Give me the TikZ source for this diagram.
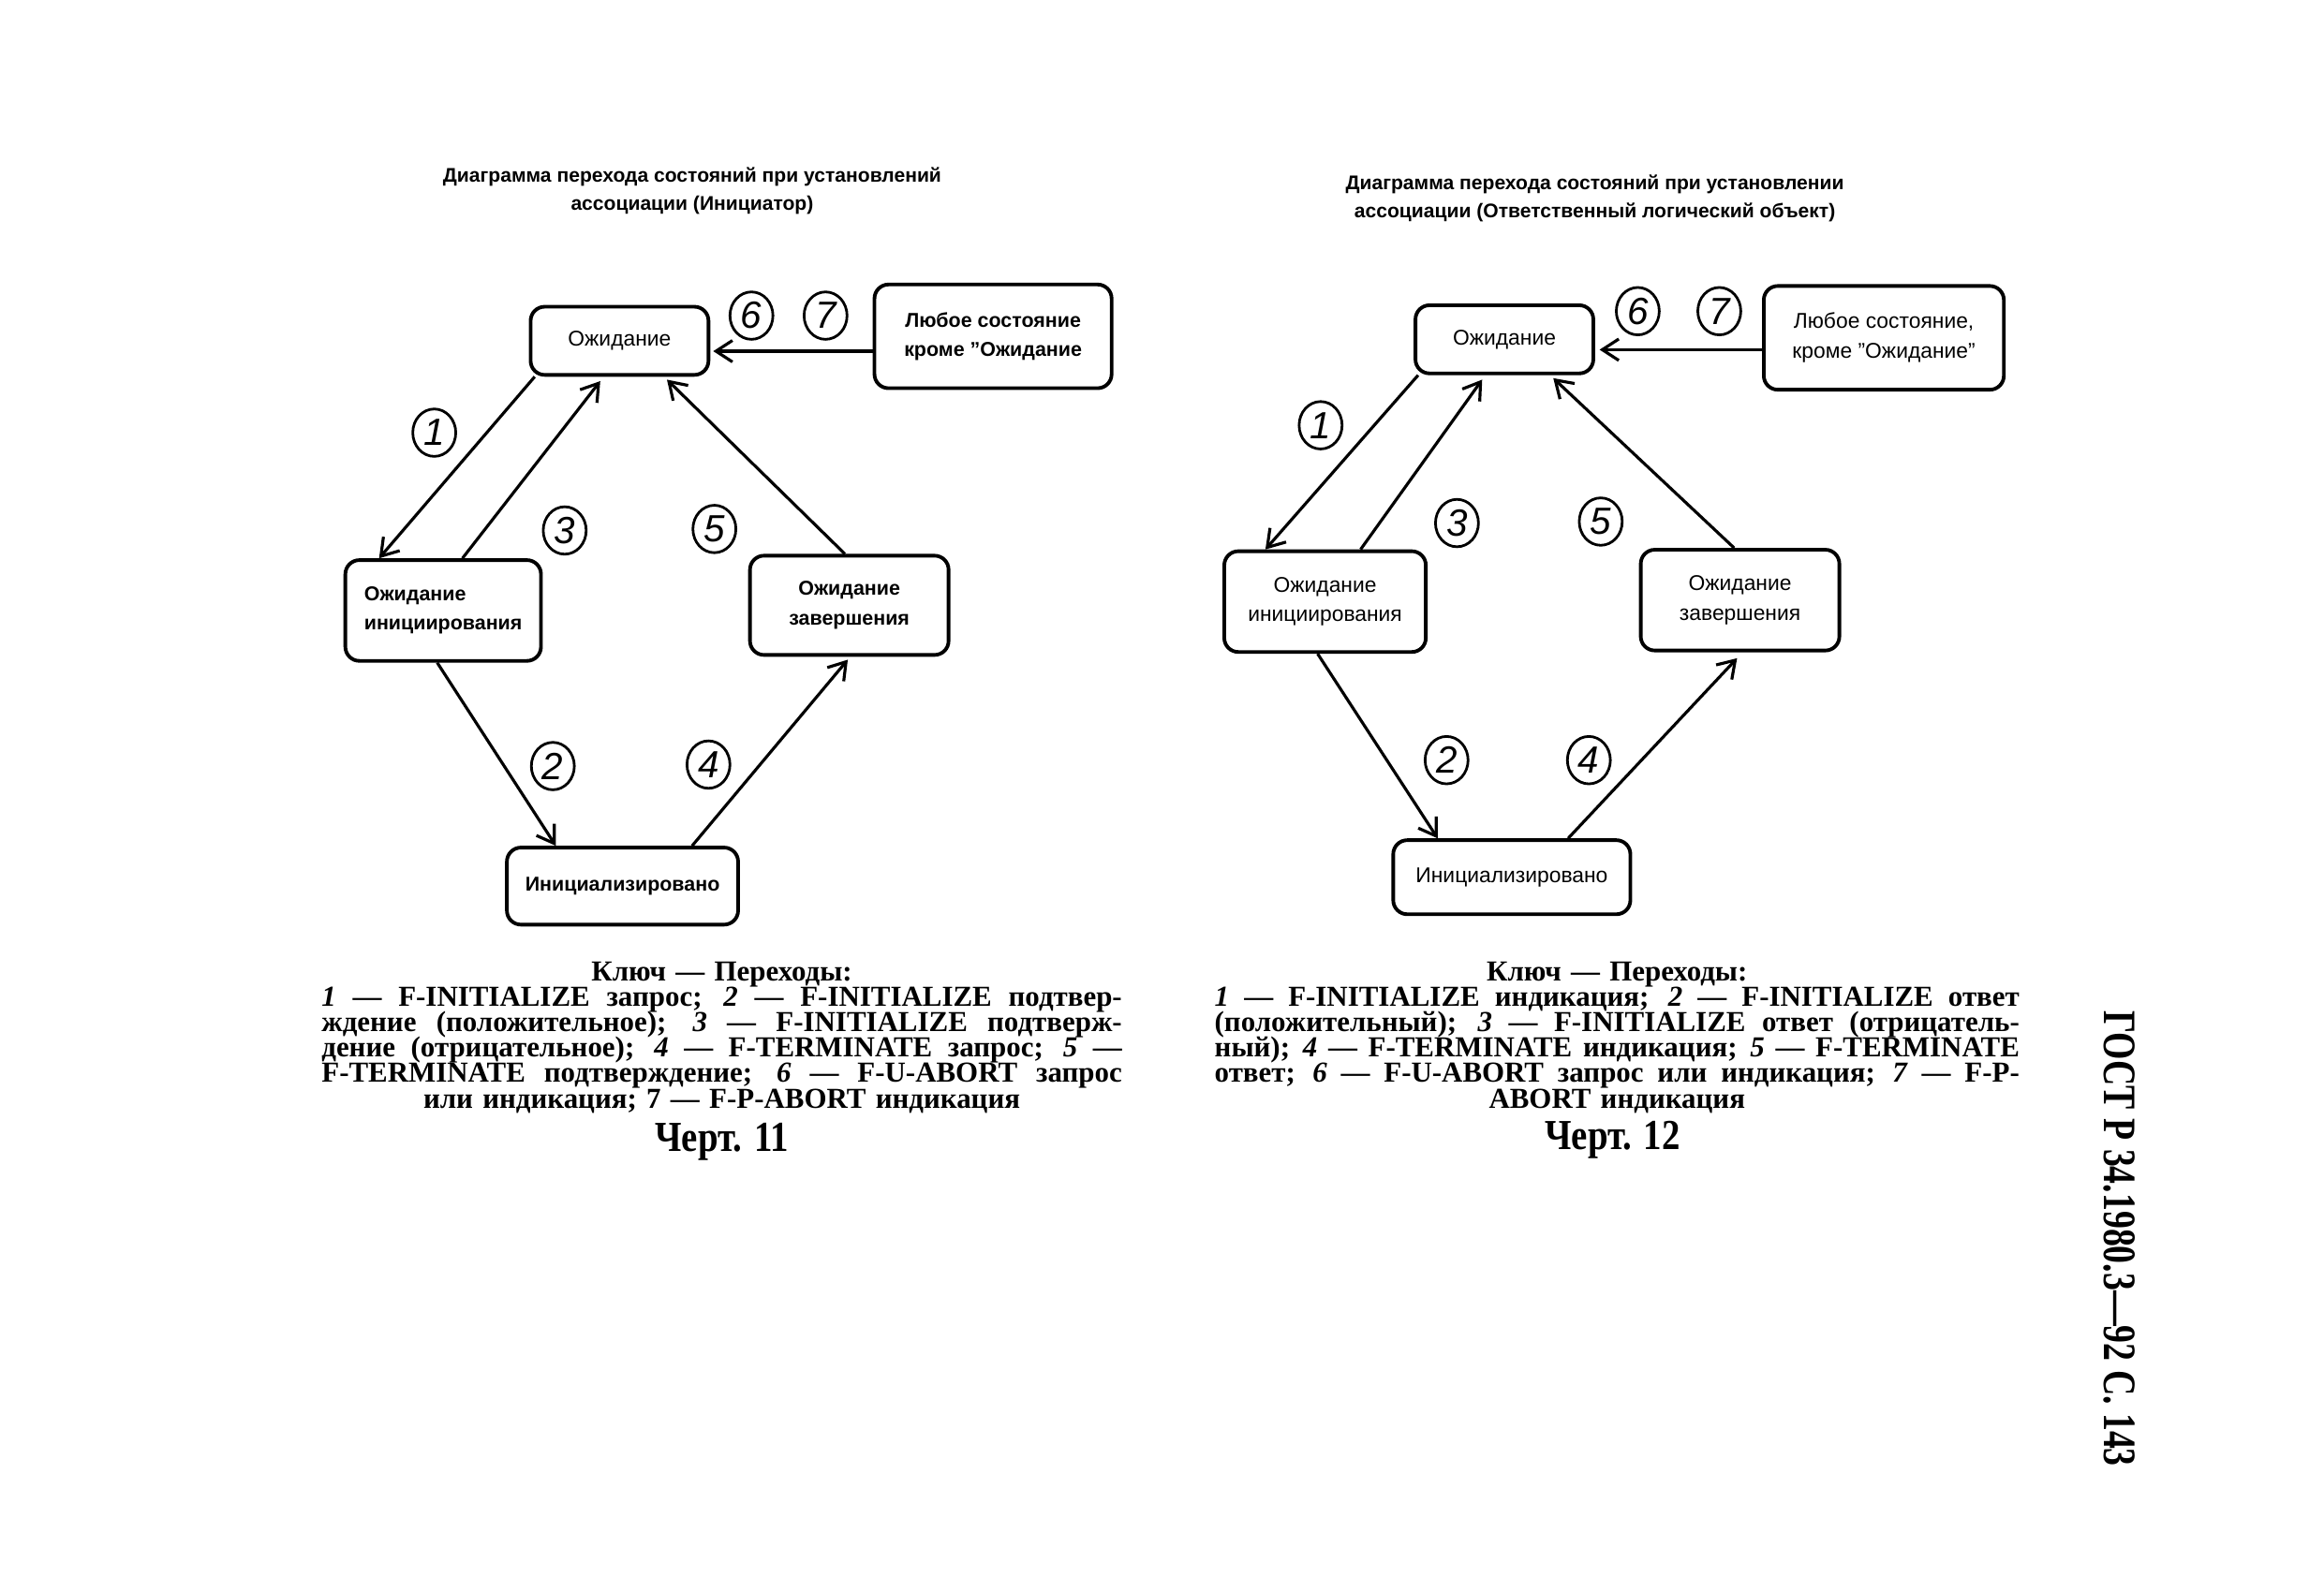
\documentclass[tikz,border=0pt]{standalone}
\usepackage{fontspec}
\usepackage{graphicx}
\setmainfont{Liberation Serif}
\setsansfont{Liberation Sans}
\newfontfamily\chertfont[FakeStretch=0.85]{Liberation Serif}
\usetikzlibrary{arrows.meta,calc,shapes.geometric}
\def\U{0.015823cm}
\tikzset{
  box/.style={draw, line width=1.1pt, rounded corners=0.15cm, inner sep=0pt, align=center,
    font=\sffamily\fontsize{6.5}{9}\selectfont},
  boxb/.style={box, font=\sffamily\bfseries\fontsize{6.1}{9}\selectfont},
  sz/.style 2 args={minimum width=#1*\U, minimum height=#2*\U},
  num/.style={draw, ellipse, line width=0.8pt, inner sep=0pt, minimum width=29*\U, minimum height=32*\U,
    font=\sffamily\itshape\fontsize{11.5}{11.5}\selectfont},
  arr/.style={line width=0.9pt, -{Straight Barb[length=5pt,width=6.5pt,line width=0.9pt]}},
  ttl/.style={align=center, font=\sffamily\bfseries\fontsize{6}{8.5}\selectfont},
  capl/.style={anchor=base, text width=540*\U, align=center, inner sep=0pt,
    font=\bfseries\fontsize{8.8}{7.7}\selectfont},
  chert/.style={anchor=base, inner sep=0pt, font=\chertfont\bfseries\fontsize{13}{13}\selectfont},
}
\newcommand\jline[1]{{\spaceskip=0.25em plus 2em minus 0.05em\xspaceskip=\spaceskip\makebox[\hsize][s]{#1}}}
\begin{document}
\begin{tikzpicture}[x=\U, y=-\U]
\fill[white] (0,0) rectangle (1568,1074);
\useasboundingbox (0,0) rectangle (1568,1074);

% ================= LEFT (Initiator) =================
\node[ttl] (T1) at (467,129) {Диаграмма перехода состояний при установлений\\ассоциации (Инициатор)};

\node[box, sz={120}{46}] (W1) at (418,230) {Ожидание};
\node[boxb, sz={160}{70}] (A1) at (670,227) {Любое состояние\\кроме ''Ожидание};
\node[boxb, sz={132}{68}, align=left] (I1) at (299,412) {Ожидание\\инициирования};
\node[boxb, sz={134}{67}] (E1) at (573,408.5) {Ожидание\\завершения};
\node[boxb, sz={156}{52}] (N1) at (420,598) {Инициализировано};

\draw[arr] ($(A1.west)+(0,10)$) -- ($(W1.east)+(2,7)$);
\draw[arr] ($(W1.south west)+(4,0)$) -- ($(I1.north west)+(24,0)$);
\draw[arr] ($(I1.north)+(13,0)$) -- ($(W1.south)+(-13,3)$);
\draw[arr] ($(E1.north)+(-3,0)$) -- ($(W1.south)+(32,2)$);
\draw[arr] ($(I1.south)+(-4,0)$) -- ($(N1.north)+(-45,0)$);
\draw[arr] ($(N1.north)+(47,0)$) -- ($(E1.south)+(-1,2)$);

\node[num] (c61) at (507,213) {6};
\node[num] (c71) at (557,213) {7};
\node[num] (c11) at (293,292) {1};
\node[num] (c31) at (381,358) {3};
\node[num] (c51) at (482,357) {5};
\node[num] (c21) at (373,517) {2};
\node[num] (c41) at (478,516) {4};

\node[capl] (k1) at (487,662) {Ключ — Переходы:};
\node[capl] (k1a) at (487,679) {\jline{\textit{1} — F-INITIALIZE запрос; \textit{2} — F-INITIALIZE подтвер-}};
\node[capl] (k1b) at (487,696) {\jline{ждение (положительное); \textit{3} — F-INITIALIZE подтверж-}};
\node[capl] (k1c) at (487,713) {\jline{дение (отрицательное); \textit{4} — F-TERMINATE запрос; \textit{5} —}};
\node[capl] (k1d) at (487,730) {\jline{F-TERMINATE подтверждение; \textit{6} — F-U-ABORT запрос}};
\node[capl] (k1e) at (487,748) {или индикация; 7 — F-P-ABORT индикация};
\node[chert] (ch1) at (487,777) {Черт. 11};

% ================= RIGHT (Responder) =================
\node[ttl] (T2) at (1076,134) {Диаграмма перехода состояний при установлении\\ассоциации (Ответственный логический объект)};

\node[box, sz={120}{46}] (W2) at (1015,229) {Ожидание};
\node[box, sz={162}{70}] (A2) at (1271,228) {Любое состояние,\\кроме ''Ожидание''};
\node[box, sz={136}{68}] (I2) at (894,406) {Ожидание\\инициирования};
\node[box, sz={134}{68}] (E2) at (1174,405) {Ожидание\\завершения};
\node[box, sz={160}{50}] (N2) at (1020,592) {Инициализировано};

\draw[arr] ($(A2.west)+(0,8)$) -- ($(W2.east)+(3,7)$);
\draw[arr] ($(W2.south west)+(3,0)$) -- ($(I2.north west)+(29,0)$);
\draw[arr] ($(I2.north)+(24,0)$) -- ($(W2.south)+(-15,3)$);
\draw[arr] ($(E2.north)+(-4,0)$) -- ($(W2.south)+(33,2)$);
\draw[arr] ($(I2.south)+(-5,0)$) -- ($(N2.north)+(-50,0)$);
\draw[arr] ($(N2.north)+(38,0)$) -- ($(E2.south)+(-2,4)$);

\node[num] (c62) at (1105,210) {6};
\node[num] (c72) at (1160,210) {7};
\node[num] (c12) at (891,287) {1};
\node[num] (c32) at (983,353) {3};
\node[num] (c52) at (1080,352) {5};
\node[num] (c22) at (976,513) {2};
\node[num] (c42) at (1072,513) {4};

\node[capl, text width=543*\U] (k2) at (1091,662) {Ключ — Переходы:};
\node[capl, text width=543*\U] (k2a) at (1091,679) {\jline{\textit{1} — F-INITIALIZE индикация; \textit{2} — F-INITIALIZE ответ}};
\node[capl, text width=543*\U] (k2b) at (1091,696) {\jline{(положительный); \textit{3} — F-INITIALIZE ответ (отрицатель-}};
\node[capl, text width=543*\U] (k2c) at (1091,713) {\jline{ный); \textit{4} — F-TERMINATE индикация; \textit{5} — F-TERMINATE}};
\node[capl, text width=543*\U] (k2d) at (1091,730) {\jline{ответ; \textit{6} — F-U-ABORT запрос или индикация; \textit{7} — F-P-}};
\node[capl, text width=543*\U] (k2e) at (1091,748) {ABORT индикация};
\node[chert] (ch2) at (1088,776) {Черт. 12};

% ================= side header =================
\node[rotate=-90, inner sep=0pt] (hdr) at (1430,836)
  {\resizebox{4.86cm}{0.33cm}{\bfseries ГОСТ Р 34.1980.3—92 С. 143}};
\end{tikzpicture}
\end{document}
